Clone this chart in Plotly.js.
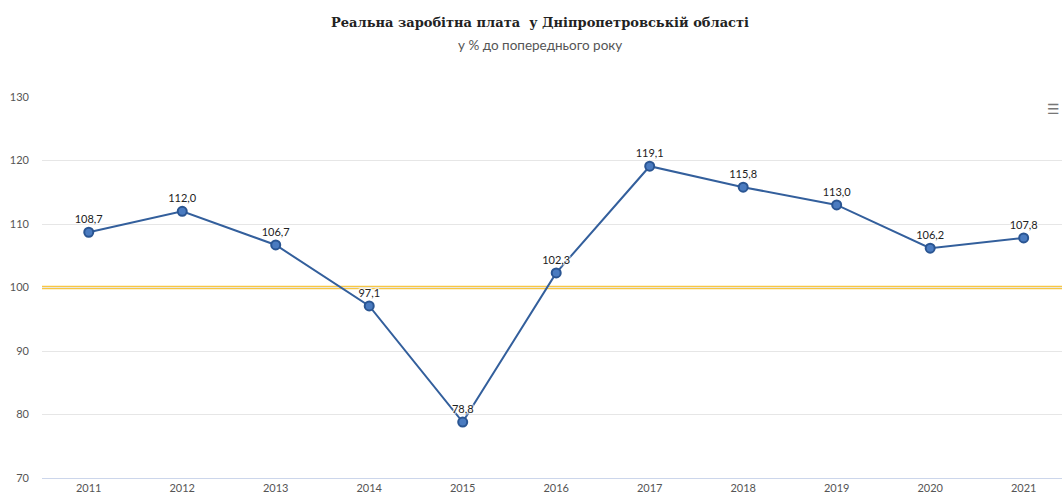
<!DOCTYPE html>
<html><head><meta charset="utf-8">
<script src="https://cdn.plot.ly/plotly-3.0.1.min.js"></script>
<style>html,body{margin:0;padding:0;overflow:hidden;background:#fff}</style>
</head><body><div id="chart" style="width:1062px;height:497px"></div>
<script>
const years = ['2011','2012','2013','2014','2015','2016','2017','2018','2019','2020','2021'];
const values = [108.7, 112.0, 106.7, 97.1, 78.8, 102.3, 119.1, 115.8, 113.0, 106.2, 107.8];
const labels = ['108,7','112,0','106,7','97,1','78,8','102,3','119,1','115,8','113,0','106,2','107,8'];
const referenceLevel = 100;
const yTicks = [70, 80, 90, 100, 110, 120, 130];

const traces = [
  {
    x: years, y: values, type: 'scatter', mode: 'lines+markers+text',
    text: labels, textposition: 'top center',
    textfont: {family: 'Lato, "Open Sans", sans-serif', size: 11, color: '#222', shadow: '1px 1px 1px #fff, -1px -1px 1px #fff, 1px -1px 1px #fff, -1px 1px 1px #fff'},
    line: {color: '#335f9c', width: 2},
    marker: {size: 9, color: '#4a7bc0', line: {color: '#2a5592', width: 2}},
    showlegend: false
  }
];

const layout = {
  width: 1062, height: 497,
  margin: {l: 42, r: 0, t: 97, b: 19},
  paper_bgcolor: '#fff', plot_bgcolor: '#fff',
  title: {
    text: '<b>Реальна заробітна плата  у Дніпропетровській області</b>',
    font: {family: '"DejaVu Serif", serif', size: 13, color: '#222'},
    x: 0.5085, xanchor: 'center', y: 0.955, yanchor: 'middle'
  },
  shapes: [
    {type: 'line', xref: 'paper', x0: 0, x1: 1, yref: 'y', y0: referenceLevel, y1: referenceLevel,
     line: {color: '#f7c744', width: 3.5}, layer: 'below'}
  ],
  annotations: [
    {text: 'у % до попереднього року', xref: 'paper', yref: 'paper', x: 0.488, y: 1, yshift: 52,
     xanchor: 'center', yanchor: 'middle', showarrow: false,
     font: {family: 'Lato, "Open Sans", sans-serif', size: 13.5, color: '#555'}},
    {text: '☰', xref: 'paper', yref: 'paper', x: 1, y: 1, xshift: 0, yshift: -12,
     xanchor: 'right', yanchor: 'middle', showarrow: false,
     font: {family: 'DejaVu Sans, sans-serif', size: 14, color: '#777'}}
  ],
  xaxis: {
    type: 'category', range: [-0.5, 10.41], showgrid: false, zeroline: false,
    showline: true, linecolor: '#ccd6eb', linewidth: 1,
    ticks: '', tickfont: {family: 'Lato, "Open Sans", sans-serif', size: 11, color: '#555'},
    fixedrange: true
  },
  yaxis: {
    range: [70, 130], tickvals: yTicks, showgrid: true, gridcolor: '#e6e6e6', gridwidth: 1,
    zeroline: false, showline: false, ticks: '', ticklabelstandoff: 12,
    tickfont: {family: 'Lato, "Open Sans", sans-serif', size: 11, color: '#555'},
    fixedrange: true
  },
  hovermode: 'closest'
};

Plotly.newPlot('chart', traces, layout, {displayModeBar: false});
</script></body></html>
